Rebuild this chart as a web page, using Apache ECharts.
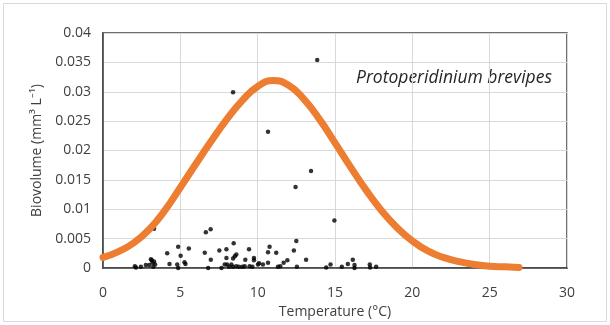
<!DOCTYPE html>
<html>
<head>
<meta charset="utf-8">
<script src="https://cdn.jsdelivr.net/npm/echarts@6/dist/echarts.min.js"></script>
<style>
html,body{margin:0;padding:0;background:#fff;}
#chart{width:610px;height:325px;}
</style>
</head>
<body>
<div id="chart"></div>
<script>
// Observed samples (black dots)
const obsTemp = [13.85, 8.41, 10.67, 13.45, 12.45, 14.96, 3.30,
  2.06, 2.13, 2.45, 2.77, 2.99, 3.10, 3.20, 3.37, 3.25, 3.15, 3.30,
  4.15, 4.30, 4.80, 4.86, 4.86, 5.02, 5.55, 5.27, 5.33,
  6.58, 6.65, 6.96, 6.97, 6.80,
  7.52, 7.98, 8.45, 8.52, 8.62, 8.41, 7.98, 9.44, 9.20, 9.76, 9.76,
  10.77, 10.67, 11.20, 10.67, 10.34, 10.09, 11.92, 11.68, 11.46, 11.31,
  12.50, 12.34, 12.54, 13.13,
  7.66, 7.87, 8.02, 8.15, 8.30, 8.41, 8.62, 8.79, 9.01, 9.16, 9.48, 9.66, 10.02,
  14.43, 14.71, 15.44, 15.83, 16.15, 16.26, 16.26, 17.25, 17.27, 17.66];
const obsBiovolume = [0.0354, 0.0299, 0.0232, 0.0165, 0.0138, 0.0081, 0.0067,
  0.0003, 0.0001, 0.0002, 0.0005, 0.0005, 0.0015, 0.0009, 0.0006, 0.0002, 0.0013, 0.0011,
  0.0025, 0.0007, 0.0006, 0.0036, 0.0000, 0.0021, 0.0033, 0.0010, 0.0007,
  0.0026, 0.0061, 0.0066, 0.0014, 0.0000,
  0.0030, 0.0032, 0.0042, 0.0020, 0.0023, 0.0016, 0.0017, 0.0032, 0.0014, 0.0017, 0.0013,
  0.0036, 0.0027, 0.0026, 0.0009, 0.0006, 0.0008, 0.0013, 0.0009, 0.0003, 0.0002,
  0.0046, 0.0030, 0.0002, 0.0014,
  0.0000, 0.0006, 0.0006, 0.0002, 0.0006, 0.0002, 0.0003, 0.0002, 0.0002, 0.0003, 0.0003, 0.0002, 0.0006,
  0.0001, 0.0006, 0.0002, 0.0007, 0.0014, 0.0005, 0.0000, 0.0006, 0.0001, 0.0002];

// Fitted curve (orange)
const fitTemp = [0, 1, 2, 3, 4, 5, 6, 7, 8, 9, 10, 11, 12, 13, 14, 15, 16, 17, 18, 19, 20, 21, 22, 23, 24, 25, 26, 26.9];
const fitBiovolume = [0.0018, 0.0028, 0.0043, 0.0066, 0.0098, 0.0137, 0.0177, 0.0216, 0.0253, 0.0285, 0.0309, 0.0319,
  0.0311, 0.0287, 0.0253, 0.0213, 0.0172, 0.0133, 0.0098, 0.0069, 0.0046, 0.0029, 0.0018, 0.0011, 0.0006, 0.0003, 0.0002, 0.0001];

const speciesLabel = 'Protoperidinium brevipes';
const xTitle = 'Temperature (°C)';
const yTitle = 'Biovolume (mm³ L⁻¹)';

const chart = echarts.init(document.getElementById('chart'), null, {renderer: 'canvas'});
const font = '"Open Sans", "Liberation Sans", sans-serif';
const txt = '#404040';

chart.setOption({
  animation: false,
  backgroundColor: '#ffffff',
  grid: {left: 103, right: 43, top: 33, bottom: 57, show: true, borderColor: '#404040', borderWidth: 1.5},
  xAxis: {
    type: 'value', min: 0, max: 30, interval: 5,
    name: xTitle, nameLocation: 'middle', nameGap: 35,
    nameTextStyle: {color: txt, fontSize: 14, fontFamily: font},
    axisLine: {show: true, lineStyle: {color: '#404040', width: 1.5}},
    axisTick: {show: false},
    axisLabel: {color: txt, fontSize: 14, fontFamily: font, margin: 18},
    splitLine: {show: true, lineStyle: {color: '#d9d9d9', width: 1}}
  },
  yAxis: {
    type: 'value', min: 0, max: 0.04, interval: 0.005,
    name: yTitle, nameLocation: 'middle', nameGap: 57, nameRotate: 90,
    nameTextStyle: {color: txt, fontSize: 14, fontFamily: font},
    axisLine: {show: true, lineStyle: {color: '#404040', width: 1.5}},
    axisTick: {show: false},
    axisLabel: {color: txt, fontSize: 14, fontFamily: font, margin: 12,
      formatter: v => String(+v.toFixed(3))},
    splitLine: {show: true, lineStyle: {color: '#d9d9d9', width: 1}}
  },
  series: [
    {
      type: 'scatter', name: 'obs',
      data: obsTemp.map((t, i) => [t, obsBiovolume[i]]),
      symbol: 'circle', symbolSize: 4.5,
      itemStyle: {color: '#000000'}, z: 2
    },
    {
      type: 'line', name: 'fit',
      data: fitTemp.map((t, i) => [t, fitBiovolume[i]]),
      smooth: true, showSymbol: false, symbol: 'none',
      lineStyle: {color: '#ED7D31', width: 7, cap: 'round'}, z: 3
    }
  ],
  graphic: [
    {type: 'rect', shape: {x: 3.5, y: 3.5, width: 603, height: 318},
      style: {fill: 'none', stroke: '#d9d9d9', lineWidth: 1}, silent: true},
    {type: 'text', left: 356, top: 69,
      style: {text: speciesLabel, fill: '#262626', font: 'italic 17.5px ' + font}}
  ]
});
</script>
</body>
</html>
